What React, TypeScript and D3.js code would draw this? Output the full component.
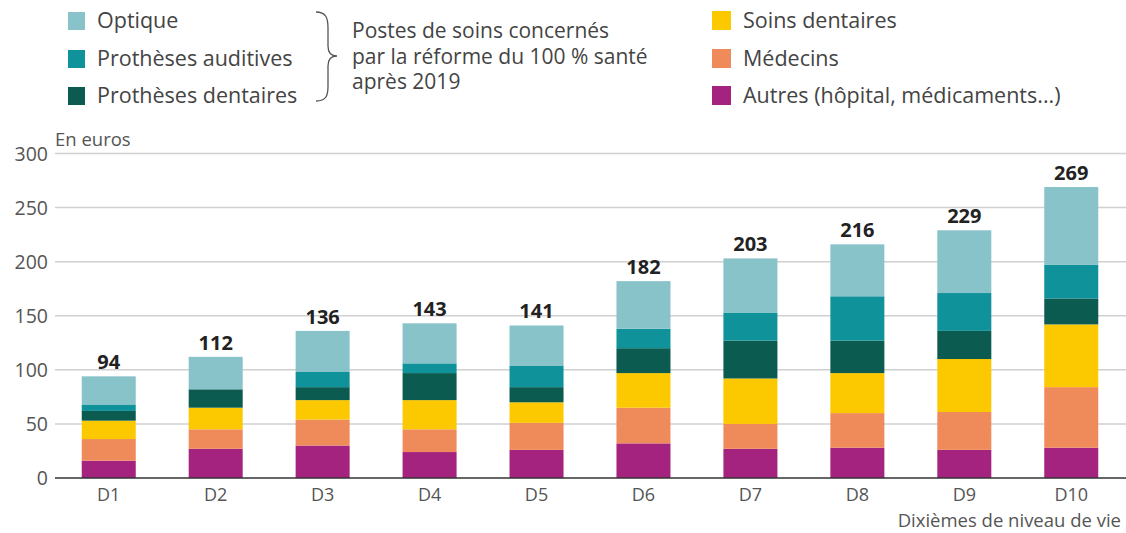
import React from "react";
import * as d3 from "d3";

const categories = ["D1", "D2", "D3", "D4", "D5", "D6", "D7", "D8", "D9", "D10"];
const autres = [16, 27, 30, 24, 26, 32, 27, 28, 26, 28];
const medecins = [20, 18, 24, 21, 25, 33, 23, 32, 35, 56];
const soinsDentaires = [17, 20, 18, 27, 19, 32, 42, 37, 49, 58];
const prothesesDentaires = [9, 17, 12, 25, 14, 23, 35, 30, 26, 24];
const prothesesAuditives = [6, 0, 14, 9, 20, 18, 26, 41, 35, 31];
const optique = [26, 30, 38, 37, 37, 44, 50, 48, 58, 72];
const totals = [94, 112, 136, 143, 141, 182, 203, 216, 229, 269];
const yTicks = [0, 50, 100, 150, 200, 250, 300];

const seriesNames = ["Autres (hôpital, médicaments...)", "Médecins", "Soins dentaires", "Prothèses dentaires", "Prothèses auditives", "Optique"];
const seriesValues = [autres, medecins, soinsDentaires, prothesesDentaires, prothesesAuditives, optique];
const colors = ["#a4237f", "#ef8a5b", "#fcc800", "#0b5b50", "#10929a", "#88c3ca"];

const FONT = "'Open Sans', sans-serif";

export default function App() {
  const W = 1126, H = 533;
  const x = d3.scaleBand<string>().domain(categories).range([55, 1125]).paddingInner(0.495).paddingOuter(0.25);
  const y = d3.scaleLinear().domain([0, 300]).range([478, 153.5]);

  const rows = categories.map((c, i) => {
    const r: any = { cat: c };
    seriesNames.forEach((s, j) => (r[s] = seriesValues[j][i]));
    return r;
  });
  const stack = d3.stack<any>().keys(seriesNames)(rows);

  const leftLegend = [
    { name: "Optique", color: colors[5], y: 21 },
    { name: "Prothèses auditives", color: colors[4], y: 59 },
    { name: "Prothèses dentaires", color: colors[3], y: 96 },
  ];
  const rightLegend = [
    { name: "Soins dentaires", color: colors[2], y: 21 },
    { name: "Médecins", color: colors[1], y: 59 },
    { name: "Autres (hôpital, médicaments...)", color: colors[0], y: 96 },
  ];

  return (
    <svg width={W} height={H} style={{ position: "absolute", left: 0, top: 0, background: "#fff" }} fontFamily={FONT}>
      {leftLegend.map((l) => (
        <g key={l.name}>
          <rect x={68} y={l.y - 9} width={17} height={18} fill={l.color} />
          <text x={97} y={l.y + 7} fontSize={21.5} fill="#444">{l.name}</text>
        </g>
      ))}
      <path d="M316,12 C326,12 328,18 328,28 L328,46 C328,52 331,56 337,56 C331,56 328,60 328,66 L328,86 C328,96 326,101 316,101" fill="none" stroke="#555" strokeWidth={1.3} />
      {["Postes de soins concernés", "par la réforme du 100 % santé", "après 2019"].map((t, i) => (
        <text key={t} x={352} y={38 + i * 25.5} fontSize={21} fill="#444">{t}</text>
      ))}
      {rightLegend.map((l) => (
        <g key={l.name}>
          <rect x={712} y={l.y - 10} width={19} height={19} fill={l.color} />
          <text x={743} y={l.y + 7} fontSize={21.5} fill="#444">{l.name}</text>
        </g>
      ))}

      {yTicks.map((t) => (
        <g key={t}>
          {t > 0 && <line x1={55} x2={1126} y1={y(t)} y2={y(t)} stroke="#d0d0d0" strokeWidth={1.5} />}
          <text x={48} y={y(t) + 7} fontSize={19.5} fill="#555" textAnchor="end">{t}</text>
        </g>
      ))}
      <text x={55} y={146} fontSize={18.5} fill="#555">En euros</text>

      {stack.map((s, j) => (
        <g key={s.key} fill={colors[j]}>
          {s.map((d, i) => (
            <rect key={i} x={x(categories[i])} width={x.bandwidth()} y={y(d[1])} height={Math.max(0, y(d[0]) - y(d[1]))} />
          ))}
        </g>
      ))}
      <line x1={55} x2={1126} y1={y(0)} y2={y(0)} stroke="#333" strokeWidth={1.5} />

      {categories.map((c, i) => (
        <text key={c} x={(x(c) as number) + x.bandwidth() / 2} y={y(totals[i]) - 7} fontSize={20} fontWeight={700} fill="#222" textAnchor="middle">{totals[i]}</text>
      ))}
      {categories.map((c) => (
        <text key={c} x={(x(c) as number) + x.bandwidth() / 2} y={501} fontSize={18} fill="#555" textAnchor="middle">{c}</text>
      ))}
      <text x={1121} y={527} fontSize={18.5} fill="#555" textAnchor="end">Dixièmes de niveau de vie</text>
    </svg>
  );
}
